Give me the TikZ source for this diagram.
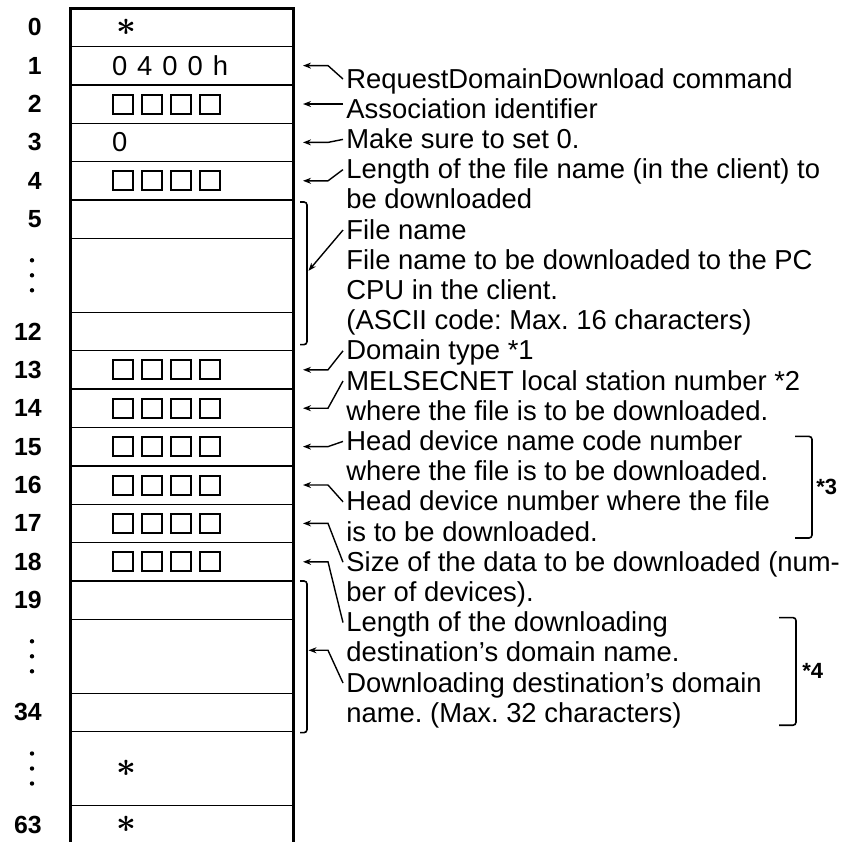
\documentclass[tikz,border=0pt]{standalone}
\usepackage{fontspec}
\setmainfont{Liberation Sans}
\usepackage{tikz}
\usetikzlibrary{arrows.meta, positioning, calc}
\frenchspacing

\newcommand{\wbox}{{\setlength\fboxsep{0pt}\setlength\fboxrule{1pt}\fbox{\rule{0pt}{8.5pt}\hspace{9pt}}}}
\newcommand{\wrow}{\wbox\hspace{3.5pt}\wbox\hspace{3.5pt}\wbox\hspace{3.5pt}\wbox}
\newcommand{\bigast}{\hspace*{2pt}{\fontsize{17}{17}\selectfont\boldmath$\ast$}}

\begin{document}
\begin{tikzpicture}[
    x=0.5pt, y=-0.5pt,
    every node/.style={font=\fontsize{13.7}{15.1}\selectfont},
    cell/.style={draw, line width=0.7pt, outer sep=0pt, minimum width=111.5pt, minimum height=19.2pt, inner xsep=21pt, inner ysep=0pt, text width=69.5pt, align=left},
    gap/.style={cell, minimum height=36.9pt},
    idx/.style={font=\fontsize{12.4}{14}\selectfont\bfseries, inner sep=0pt, anchor=east},
    note/.style={inner sep=0pt, anchor=west, text height=9.5pt, text depth=0.5pt},
    star/.style={font=\fontsize{11}{13}\selectfont\bfseries, inner sep=0pt, anchor=west},
    ptr/.style={-{Stealth[length=4pt, width=3pt]}, line width=0.7pt},
    wall/.style={line width=1.5pt},
    brk/.style={line width=0.8pt, rounded corners=1.5pt},
]
\useasboundingbox (0,0) rectangle (844,841);

% Guide columns
\coordinate (nx) at (42,0);
\coordinate (dx) at (32,0);
\coordinate (tx) at (303,0);
\coordinate (kx) at (328,0);
\coordinate (ex) at (343,0);
\coordinate (bx) at (307,0);
\coordinate (b3x) at (812,0);
\coordinate (b4x) at (796,0);

% Buffer words
\node[cell] (r0) at (181.5,27.2) {\bigast};
\node[cell, below=0pt of r0] (r1) {0\hspace{5pt}4\hspace{5pt}0\hspace{5pt}0\hspace{5pt}h};
\node[cell, below=0pt of r1] (r2) {\wrow};
\node[cell, below=0pt of r2] (r3) {0};
\node[cell, below=0pt of r3] (r4) {\wrow};
\node[cell, below=0pt of r4] (r5) {};
\node[gap, below=0pt of r5] (g1) {};
\node[cell, below=0pt of g1] (r12) {};
\foreach \k [remember=\k as \p (initially 12)] in {13,...,18}
    \node[cell, below=0pt of r\p] (r\k) {\wrow};
\node[cell, below=0pt of r18] (r19) {};
\node[gap, below=0pt of r19] (g2) {};
\node[cell, below=0pt of g2] (r34) {};
\node[gap, below=0pt of r34] (g3) {\bigast};
\node[cell, below=0pt of g3] (r63) {\bigast};
\draw[wall] (r63.south west) -- (r0.north west) -- (r0.north east) -- (r63.south east);

% Word numbers
\foreach \r/\t in {r0/0, r1/1, r2/2, r3/3, r4/4, r5/5, r12/12, r13/13, r14/14, r15/15,
                   r16/16, r17/17, r18/18, r19/19, r34/34, r63/63}
    \node[idx] (n\r) at (\r.west -| nx) {\t};
\foreach \g in {g1, g2, g3}
    \foreach \d in {-15,0,15}
        \fill ($(\g.west -| dx)+(0,\d)$) circle (2.2);

% Explanations
\foreach \t [count=\i] in {RequestDomainDownload command, Association identifier,
    Make sure to set 0., Length of the file name (in the client) to, be downloaded,
    File name, File name to be downloaded to the PC, CPU in the client.,
    (ASCII code: Max. 16 characters), Domain type *1, MELSECNET local station number *2,
    where the file is to be downloaded., Head device name code number,
    where the file is to be downloaded., Head device number where the file,
    is to be downloaded., Size of the data to be downloaded (num-, ber of devices).,
    Length of the downloading, destination's domain name.,
    Downloading destination's domain, name. (Max. 32 characters)}
    \node[note] (l\i) at (346,{79+30.2*(\i-1)}) {\t};

% Pointers to single words
\foreach \l/\r in {l1/r1, l3/r3, l4/r4, l10/r13, l11/r14, l13/r15, l15/r16, l17/r17, l19/r18}
    \draw[ptr] (\l.west -| ex) -- (\r.east -| kx) -- (\r.east -| tx);
\draw[ptr] (r2.east -| ex) -- (r2.east -| tx);

% File name bracket
\draw[brk] ($(r5.north -| bx)+(-7,2)$) -- ($(r5.north -| bx)+(0,2)$)
    -- ($(r12.south -| bx)+(0,-6)$) -- ($(r12.south -| bx)+(-7,-6)$);
\coordinate (fb) at ($(r5.north -| bx)!0.47!(r12.south -| bx)+(1.5,0)$);
\draw[ptr] (l6.west -| ex) -- (fb);

% Domain name bracket
\draw[brk] ($(r19.north -| bx)+(-7,0)$) -- (r19.north -| bx)
    -- ($(r34.south -| bx)+(0,1)$) -- ($(r34.south -| bx)+(-7,1)$);
\coordinate (fc) at ($(r19.north -| bx)!0.46!(r34.south -| bx)+(1.5,0)$);
\draw[ptr] (l21.west -| ex) -- (fc -| kx) -- (fc);

% Note brackets
\draw[brk] ($(l13.west -| b3x)+(-17,-5)$) -- ($(l13.west -| b3x)+(0,-5)$)
    -- ($(l16.west -| b3x)+(0,6)$) -- ($(l16.west -| b3x)+(-17,6)$);
\node[star] (s3) at ($(l13.west -| b3x)!0.5!(l16.west -| b3x)+(4,0)$) {*3};
\draw[brk] ($(l19.west -| b4x)+(-17,-5)$) -- ($(l19.west -| b4x)+(0,-5)$)
    -- ($(l22.west -| b4x)+(0,12)$) -- ($(l22.west -| b4x)+(-17,12)$);
\node[star] (s4) at ($(l19.west -| b4x)!0.5!(l22.west -| b4x)+(6,3)$) {*4};

\end{tikzpicture}
\end{document}
